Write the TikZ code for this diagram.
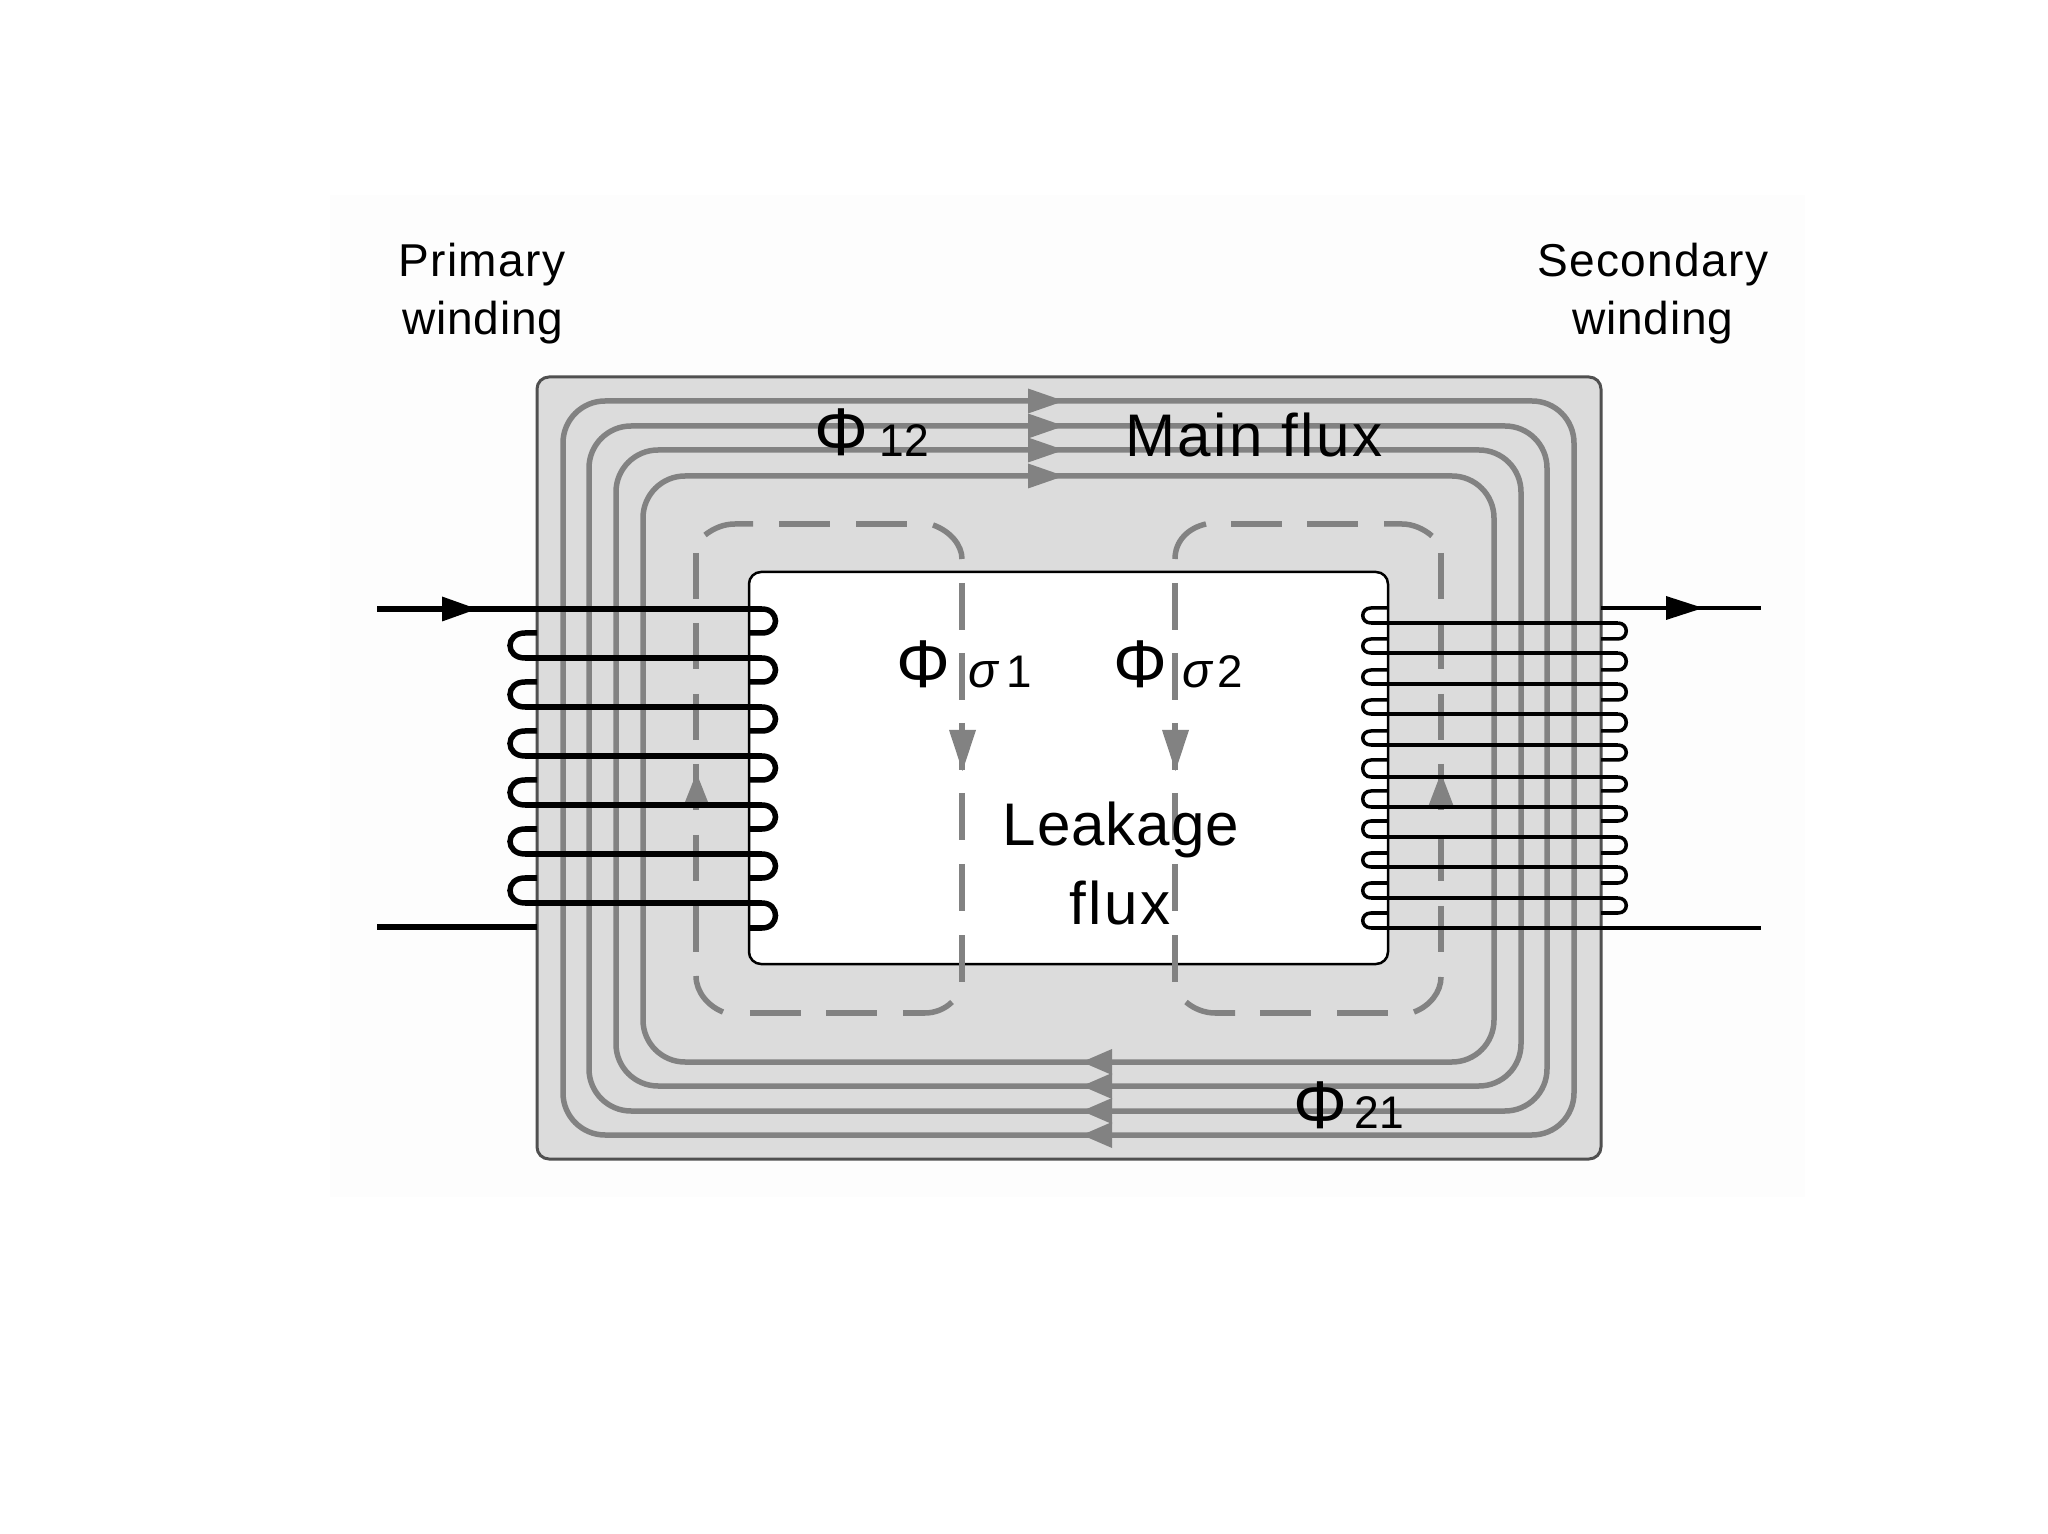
\documentclass[tikz,border=0pt]{standalone}
\usepackage{fontspec}
\setmainfont{Liberation Sans}
\newfontfamily\tracked[LetterSpace=3]{Liberation Sans}
\newfontfamily\trackedb[LetterSpace=4]{Liberation Sans}
\newfontfamily\trackedc[LetterSpace=1.5]{Liberation Sans}
\definecolor{coregray}{HTML}{DCDCDC}
\definecolor{fluxgray}{HTML}{828282}
\definecolor{edgegray}{HTML}{505050}
\definecolor{faint}{HTML}{FDFDFD}
\tikzset{
  corebox/.style={fill=coregray,draw=edgegray,line width=0.03cm,rounded corners=0.12cm},
  windowbox/.style={fill=white,draw=black,line width=0.025cm,rounded corners=0.12cm},
  fluxloop/.style={draw=fluxgray,line width=0.055cm,rounded corners=0.42cm},
  dashpiece/.style={draw=fluxgray,line width=0.055cm},
  fluxhead/.style={fill=fluxgray},
  wireA/.style={draw=black,line width=0.055cm},
  wireB/.style={draw=black,line width=0.035cm},
  wirehead/.style={fill=black},
  lab/.style={inner sep=0pt,anchor=base,text=black}
}
\newcommand{\fphi}{\fontsize{19.2}{20}\selectfont}
\newcommand{\fsub}{\fontsize{13}{14}\selectfont}
\newcommand{\fwind}{\fontsize{13.1}{14}\selectfont}
\newcommand{\fbig}{\fontsize{17.1}{18}\selectfont}
\begin{document}
\begin{tikzpicture}[x=0.01cm,y=-0.01cm]
\useasboundingbox (0,0) rectangle (2048,1534);
\fill[white] (0,0) rectangle (2048,1534);
\fill[faint] (330,195) rectangle (1805,1197);
% core
\path[corebox] (537,377) rectangle (1601,1159);
\path[windowbox] (749,572) rectangle (1388,964);
% main flux
\path[fluxloop] (563,401) rectangle (1574,1135);
\path[fluxloop] (589,426) rectangle (1547,1111);
\path[fluxloop] (616,450) rectangle (1521,1086);
\path[fluxloop] (643,476) rectangle (1494,1062);
\foreach \y in {401,426,450,476}
  \fill[fluxhead] (1028,\y-12.5) -- (1064,\y) -- (1028,\y+12.5) -- cycle;
\foreach \y in {1062,1086,1111,1135}
  \fill[fluxhead] (1112,\y-13) -- (1082,\y) -- (1112,\y+13) -- cycle;
% leakage flux: vertical dashes
\foreach \y in {553,623,694,764,835,906} {
  \path[dashpiece] (696,\y) -- (696,\y+46);
  \path[dashpiece] (1441,\y) -- (1441,\y+46);
}
\foreach \y in {583,653,723,793,864,935} {
  \path[dashpiece] (962,\y) -- (962,\y+47);
  \path[dashpiece] (1175,\y) -- (1175,\y+47);
}
% horizontal dashes
\foreach \x in {779,856} \path[dashpiece] (\x,524) -- (\x+51,524);
\foreach \x in {1231,1307} \path[dashpiece] (\x,524) -- (\x+51,524);
\foreach \x in {750,826} \path[dashpiece] (\x,1013) -- (\x+51,1013);
\foreach \x in {1260,1337} \path[dashpiece] (\x,1013) -- (\x+51,1013);
% corner dashes
\path[dashpiece] (705,535) .. controls (714,528) and (724,524) .. (735,524) -- (753,524);
\path[dashpiece] (933,525) .. controls (950,531) and (962,545) .. (962,559);
\path[dashpiece] (696,976) .. controls (696,992) and (708,1006) .. (723,1012);
\path[dashpiece] (903,1013) -- (925,1013) .. controls (935,1013) and (945,1009) .. (952,1002);
\path[dashpiece] (1175,559) .. controls (1175,541) and (1188,528) .. (1206,524);
\path[dashpiece] (1384,524) -- (1402,524) .. controls (1413,524) and (1424,529) .. (1432,536);
\path[dashpiece] (1186,1002) .. controls (1194,1009) and (1205,1013) .. (1215,1013) -- (1235,1013);
\path[dashpiece] (1414,1012) .. controls (1430,1006) and (1441,992) .. (1441,977);
% leakage arrowheads
\fill[fluxhead] (685,802) -- (696.5,773) -- (708,802) -- cycle;
\fill[fluxhead] (1428,807) -- (1441,773) -- (1454,807) -- cycle;
\fill[fluxhead] (949,730) -- (962.5,771) -- (976,730) -- cycle;
\fill[fluxhead] (1162,730) -- (1175.5,771) -- (1189,730) -- cycle;
% primary winding
\path[wireA] (377,609) -- (762,609);
\foreach \y in {658,707,756,805,854,903} \path[wireA] (525,\y) -- (762,\y);
\foreach \a/\b in {633/658,682/707,731/756,780/805,829/854,878/903}
  \path[wireA] (537,\a) -- (525,\a) .. controls (505,\a) and (505,\b) .. (525,\b);
\foreach \a/\b in {609/633,658/682,707/731,756/780,805/829,854/878,903/928}
  \path[wireA] (762,\a) .. controls (780,\a) and (780,\b) .. (762,\b) -- (749,\b);
\path[wireA] (377,927) -- (537,927);
\fill[wirehead] (442,596.5) -- (477,609) -- (442,621.5) -- cycle;
% secondary winding
\path[wireB] (1601,608) -- (1761,608);
\foreach \y in {623,653,684,714,745,777,807,837,867,898} \path[wireB] (1371,\y) -- (1618,\y);
\path[wireB] (1371,928) -- (1761,928);
\foreach \a/\b in {608/623,639/653,670/684,700/714,731/745,760/777,791/807,821/837,853/867,883/898,913/928}
  \path[wireB] (1388,\a) -- (1371,\a) .. controls (1360,\a) and (1360,\b) .. (1371,\b);
\foreach \a/\b in {623/639,653/670,684/700,714/731,745/760,777/791,807/821,837/853,867/883,898/913}
  \path[wireB] (1618,\a) .. controls (1629,\a) and (1629,\b) .. (1618,\b) -- (1601,\b);
\fill[wirehead] (1666,596) -- (1703,608) -- (1666,620) -- cycle;
% labels
\node[lab] (primA) at (482,277) {\fwind\tracked Primary};
\node[lab] (primB) at (483,335) {\fwind\trackedc winding};
\node[lab] (secA) at (1653,277) {\fwind\tracked Secondary};
\node[lab] (secB) at (1653,335) {\fwind\trackedc winding};
\node[lab] (phiA) at (841,456) {\fphi Φ};
\node[lab] (subA) at (904,457) {\fsub\scalebox{0.97}[1]{12}};
\node[lab] (mainflux) at (1254,457) {\fbig\trackedb Main flux};
\node[lab] (phiB) at (1320,1128) {\fphi Φ};
\node[lab] (subB) at (1379,1128) {\fsub\scalebox{0.97}[1]{21}};
\node[lab] (phiC) at (923,688) {\fphi Φ};
\node[lab] (sigC) at (983,688) {\fontsize{14}{15}\selectfont\itshape σ};
\node[lab] (oneC) at (1019,688) {\fsub 1};
\node[lab] (phiD) at (1140,688) {\fphi Φ};
\node[lab] (sigD) at (1197,688) {\fontsize{14}{15}\selectfont\itshape σ};
\node[lab] (twoD) at (1230,688) {\fsub 2};
\node[lab] (leakA) at (1121,846) {\fbig\trackedc Leakage};
\node[lab] (leakB) at (1120,924) {\fbig\trackedb flux};
\end{tikzpicture}
\end{document}
